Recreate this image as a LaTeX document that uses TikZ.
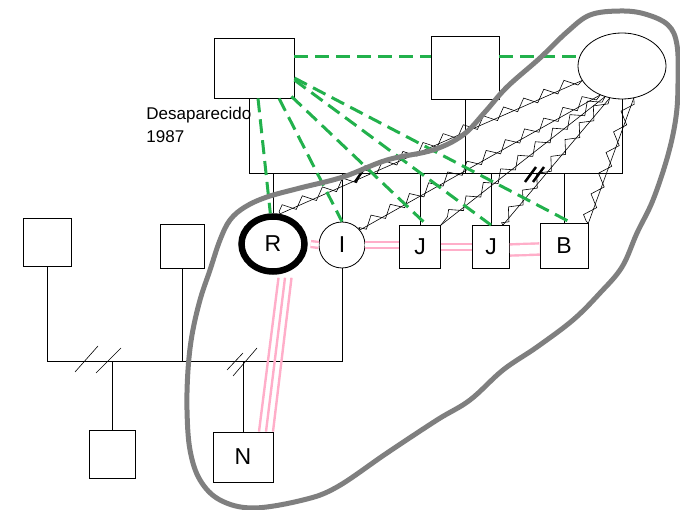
\documentclass[tikz,border=0pt]{standalone}
\usepackage{fontspec}
\setmainfont{Liberation Sans}
\usetikzlibrary{positioning,calc,decorations.pathmorphing,shapes.geometric}
\definecolor{paintgreen}{RGB}{34,177,76}
\definecolor{paintpink}{RGB}{255,174,201}
\definecolor{paintgray}{RGB}{127,127,127}
\tikzset{
    person/.style={draw, fill=white, inner sep=0pt, font=\fontsize{23}{27}\selectfont},
    hostile/.style={draw, line width=0.6pt, postaction={draw, decorate, decoration={zigzag, amplitude=5pt, segment length=22pt, raise=-2.5pt}}},
    closeline/.style={draw=paintgreen, line width=3pt, dash pattern=on 14pt off 7pt},
    fused/.style={draw=paintpink, line width=2.4pt},
    fusedpair/.style={draw=paintpink, line width=2.4pt, double=white, double distance=3.5pt},
    cutmark/.style={line width=0.6pt}
}

\begin{document}
\begin{tikzpicture}[x=1pt, y=-1pt, line width=0.8pt]
    \useasboundingbox (0,0) rectangle (680,510);
    \node[person, minimum width=80pt, minimum height=60pt] (fa) at (254,68) {};
    \node[person, minimum width=68pt, minimum height=63pt] (pm) at (465,67.5) {};
    \node[person, ellipse, minimum width=88pt, minimum height=66pt] (el) at (622,66) {};
    \node[person, ellipse, line width=6.5pt, minimum width=63pt, minimum height=55pt] (R) at (273,244) {R};
    \node[person, circle, minimum size=46pt] (I) at (342,245) {I};
    \node[person, minimum width=41pt, minimum height=43pt] (J1) at (420,247) {J};
    \node[person, minimum width=37pt, minimum height=43pt] (J2) at (491,247) {J};
    \node[person, minimum width=48pt, minimum height=45pt] (B) at (564,246) {B};
    \node[person, minimum width=48pt, minimum height=48pt] (L1) at (47,242) {};
    \node[person, minimum width=44pt, minimum height=44pt] (L2) at (182,246) {};
    \node[person, minimum width=46pt, minimum height=48pt] (C1) at (112,454) {};
    \node[person, minimum width=60pt, minimum height=50pt] (N) at (243,457) {N};
    \node[anchor=north west, inner sep=0pt, align=left, font=\fontsize{17}{23}\selectfont] (lbl) at (146,107) {Desaparecido\\1987};

    \coordinate (sl) at (249,173);
    \coordinate (sr) at (623,173);
    \draw ($(fa.south)+(-5,0)$) -- (sl) -- (sr);
    \draw (pm.south) -- (pm.south |- sl);
    \draw (el.south) -- (el.south |- sl);
    \foreach \k in {R,I,J1,J2,B}
        \draw (\k.north) -- (\k.north |- sl);

    \coordinate (ll) at (47,361);
    \coordinate (lr) at (342,361);
    \draw (L1.south) -- (ll) -- (lr) -- (I.south);
    \draw (L2.south) -- (L2.south |- ll);
    \draw (C1.north) -- (C1.north |- ll);
    \draw (N.north) -- (N.north |- ll);

    \draw[cutmark] (75,372) -- (98,346) (96,373) -- (121,348);
    \draw[cutmark] (227,370) -- (243,353) (233,376) -- (257,348);
    \draw[line width=2.5pt] (355,182) -- (366,166);
    \draw[line width=2.5pt] (525,182) -- (536,167) (533,182) -- (544,167);

    \draw[hostile] (el.200) -- (R.77);
    \draw[hostile] (el.233) -- (I.40);
    \draw[hostile] (el.241) -- (J1.north east);
    \draw[hostile] (el.249) -- ($(J2.north east)+(-7,0)$);
    \draw[hostile] (el.290) -- (B.north east);

    \coordinate (gy) at (0,57);
    \draw[closeline] (fa.east |- gy) -- (pm.west |- gy);
    \draw[closeline] (pm.east |- gy) -- (el.west |- gy);
    \draw[closeline] ($(fa.south)+(4,0)$) -- (R.95);
    \draw[closeline] ($(fa.south)+(25,0)$) -- (I.north);
    \draw[closeline] ($(fa.south east)+(-3,-2)$) -- ($(J1.north)+(7,0)$);
    \draw[closeline] ($(fa.east)+(0,12)$) -- (J2.north);
    \draw[closeline] ($(fa.east)+(0,10)$) -- ($(B.north)+(8,0)$);

    \draw[fusedpair] ($(R.east)+(3,0)$) -- (I.west);
    \draw[fusedpair] (I.east) -- (I.east -| J1.west);
    \draw[fusedpair] (J1.east) -- (J2.west);
    \draw[fusedpair, double distance=8.8pt] ($(J2.east)+(0,3)$) -- ($(B.west)+(0,3)$);
    \foreach \d in {-1,0,1}
        \draw[fused] ($(R.south)+(12+6.5*\d,3)$) -- ($(N.north)+(23+7*\d,0)$);

    \draw[paintgray, line width=5pt, line join=round] plot[smooth cycle, tension=0.6] coordinates {(267,197) (300,188) (343,177) (387,160) (433,150) (463,135) (485,112) (507,87) (540,58) (567,32) (590,15) (620,11) (645,14) (668,25) (677,45) (678,83) (676,117) (668,155) (653,200) (637,233) (622,267) (600,293) (573,320) (537,347) (503,370) (470,400) (437,420) (387,453) (337,487) (303,500) (253,508) (220,500) (200,480) (190,450) (187,410) (188,370) (192,335) (200,300) (210,270) (220,240) (230,220) (245,207)};
\end{tikzpicture}
\end{document}
